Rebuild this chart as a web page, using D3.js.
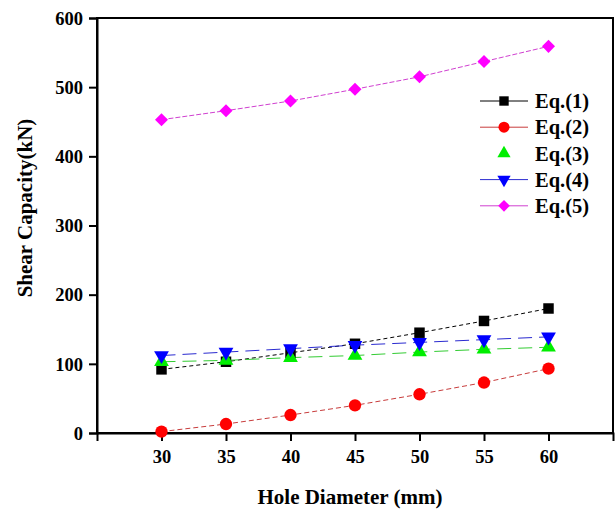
<!DOCTYPE html>
<html>
<head>
<meta charset="utf-8">
<script src="https://cdn.jsdelivr.net/npm/d3@7"></script>
<style>
body { margin: 0; background: #fff; }
text { font-family: "Liberation Serif", "Times New Roman", serif; font-weight: bold; }
</style>
</head>
<body>
<svg id="chart" width="616" height="509"></svg>
<script>
var diameters = [30, 35, 40, 45, 50, 55, 60];
var eq1 = [92, 103, 116, 129, 145, 162, 180];
var eq2 = [2, 13, 26, 40, 56, 73, 93];
var eq3 = [103, 105, 109, 112, 117, 121, 124];
var eq4 = [112, 117, 122, 127, 131, 135, 139];
var eq5 = [453, 466, 480, 497, 515, 537, 559];
var yTicks = [0, 100, 200, 300, 400, 500, 600];
var seriesNames = ["Eq.(1)", "Eq.(2)", "Eq.(3)", "Eq.(4)", "Eq.(5)"];

var series = [
    {name: seriesNames[0], values: eq1, color: "#000000", line: "#000000", dash: "4,3", symbol: d3.symbolSquare, size: 110, rot: 0},
    {name: seriesNames[1], values: eq2, color: "#ff0000", line: "#c83c3c", dash: "5,3", symbol: d3.symbolCircle, size: 120, rot: 0},
    {name: seriesNames[2], values: eq3, color: "#00ee00", line: "#33cc33", dash: "14,7", symbol: d3.symbolTriangle, size: 95, rot: 0},
    {name: seriesNames[3], values: eq4, color: "#0000ff", line: "#2a2ad0", dash: "14,7", symbol: d3.symbolTriangle, size: 95, rot: 180},
    {name: seriesNames[4], values: eq5, color: "#ff00ff", line: "#d040d0", dash: "5,2", symbol: d3.symbolSquare, size: 85, rot: 45}
];

var svg = d3.select("#chart"),
MARGINS = {top: 18, right: 3, bottom: 76, left: 97},
WIDTH = 616,
HEIGHT = 509;

var xScale = d3.scaleLinear()
    .domain([25, 65])
    .range([MARGINS.left, WIDTH - MARGINS.right]);

var yScale = d3.scaleLinear()
    .domain([0, 600])
    .range([HEIGHT - MARGINS.bottom, MARGINS.top]);

// frame
svg.append("rect")
    .attr("x", MARGINS.left)
    .attr("y", MARGINS.top)
    .attr("width", WIDTH - MARGINS.right - MARGINS.left)
    .attr("height", HEIGHT - MARGINS.bottom - MARGINS.top)
    .attr("fill", "none")
    .attr("stroke", "#000")
    .attr("stroke-width", 2);

var xAxis = d3.axisBottom(xScale)
    .tickValues(diameters)
    .tickSize(8)
    .tickPadding(9);

var gx = svg.append("g")
    .attr("transform", "translate(0," + (HEIGHT - MARGINS.bottom) + ")")
    .call(xAxis);

var yAxis = d3.axisLeft(yScale)
    .tickValues(yTicks)
    .tickSize(8)
    .tickPadding(6);

var gy = svg.append("g")
    .attr("transform", "translate(" + MARGINS.left + ",0)")
    .call(yAxis);

[gx, gy].forEach(function (g) {
    g.select(".domain").attr("stroke-width", 2);
    g.selectAll(".tick line").attr("stroke-width", 2);
    g.selectAll(".tick text")
        .attr("font-size", 18.5)
        .attr("font-family", "Liberation Serif, serif")
        .attr("font-weight", "bold")
        .attr("fill", "#000");
});
gy.selectAll(".tick text").attr("dy", "0.34em");

svg.append("text")
    .attr("x", 350)
    .attr("y", 504)
    .style("text-anchor", "middle")
    .attr("font-size", 21)
    .text("Hole Diameter (mm)");

svg.append("text")
    .attr("transform", "rotate(-90)")
    .attr("x", -208)
    .attr("y", 32)
    .style("text-anchor", "middle")
    .attr("font-size", 21)
    .text("Shear Capacity(kN)");

var lineGen = d3.line()
    .x(function (d, i) { return xScale(diameters[i]); })
    .y(function (d) { return yScale(d); });

series.forEach(function (s) {
    svg.append("path")
        .attr("d", lineGen(s.values))
        .attr("fill", "none")
        .attr("stroke", s.line)
        .attr("stroke-width", 1)
        .attr("stroke-dasharray", s.dash);
});

series.forEach(function (s) {
    svg.append("g").selectAll("path")
        .data(s.values)
        .enter().append("path")
        .attr("d", d3.symbol().type(s.symbol).size(s.size))
        .attr("transform", function (d, i) {
            return "translate(" + xScale(diameters[i]) + "," + yScale(d) + ") rotate(" + s.rot + ")";
        })
        .attr("fill", s.color);
});

// legend
var legend = svg.append("g");
series.forEach(function (s, i) {
    var y = 101 + i * 26.2;
    if (i !== 2) {
        legend.append("line")
            .attr("x1", 480).attr("x2", 528)
            .attr("y1", y).attr("y2", y)
            .attr("stroke", s.line)
            .attr("stroke-width", 1);
    }
    legend.append("path")
        .attr("d", d3.symbol().type(s.symbol).size(s.size * 0.8))
        .attr("transform", "translate(504," + y + ") rotate(" + s.rot + ")")
        .attr("fill", s.color);
    legend.append("text")
        .attr("x", 535)
        .attr("y", y)
        .attr("dy", "0.35em")
        .attr("font-size", 20.5)
        .text(s.name);
});
</script>
</body>
</html>
